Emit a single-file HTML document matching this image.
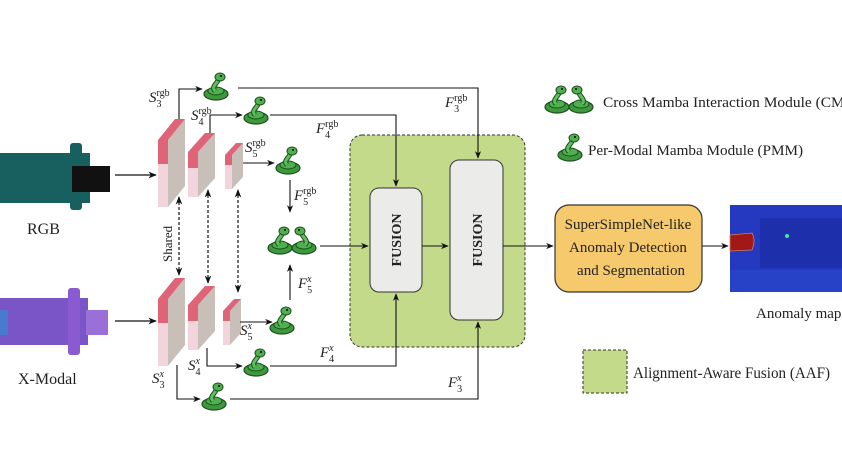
<!DOCTYPE html>
<html><head><meta charset="utf-8"><style>
html,body{margin:0;padding:0;background:#fff;width:842px;height:474px;overflow:hidden}
svg{display:block}
text{font-family:"Liberation Serif",serif;fill:#222}
</style></head><body>
<svg width="842" height="474" viewBox="0 0 842 474" xmlns="http://www.w3.org/2000/svg">
<defs>
<marker id="ar" viewBox="0 0 10 10" refX="9" refY="5" markerWidth="7" markerHeight="7" orient="auto-start-reverse"><path d="M0,1 L10,5 L0,9 L3,5z" fill="#111"/></marker>
<g id="sn">
<ellipse cx="0" cy="6" rx="12" ry="6" fill="#3c9a3c" stroke="#1d4d1d" stroke-width="1.2"/>
<ellipse cx="0" cy="3" rx="8" ry="4" fill="#4fb04f" stroke="#1d4d1d" stroke-width="1"/>
<path d="M-1,3 C-6,-2 4,-6 2,-10" stroke="#1d4d1d" stroke-width="5" fill="none"/>
<path d="M-1,3 C-6,-2 4,-6 2,-10" stroke="#5cc05c" stroke-width="3" fill="none"/>
<ellipse cx="4" cy="-11" rx="5" ry="4" fill="#4fb04f" stroke="#1d4d1d" stroke-width="1"/>
<circle cx="5" cy="-12" r="1" fill="#000"/>
</g>
<g id="blk1">
<polygon points="168,140 185,119 185,186 168,207" fill="#c8c0b8"/>
<rect x="158" y="140" width="10" height="67" fill="#f4d4dc"/>
<polygon points="158,140 175,119 185,119 168,140 168,164 158,164" fill="#e06478"/>
</g>
</defs>

<rect x="0" y="153" width="90" height="50" fill="#17605f"/>
<rect x="70" y="143" width="12" height="67" rx="3" fill="#17605f"/>
<rect x="72" y="166" width="38" height="26" fill="#111"/>
<text x="27" y="234" font-size="16">RGB</text>
<rect x="0" y="298" width="88" height="47" fill="#7a55c8"/>
<rect x="68" y="288" width="12" height="67" rx="3" fill="#8a5ad0"/>
<rect x="86" y="310" width="22" height="25" fill="#9a70d8"/>
<rect x="0" y="310" width="8" height="25" fill="#4a7ad0"/>
<text x="18" y="384" font-size="16">X-Modal</text>

<line x1="115" y1="175" x2="156" y2="175" stroke="#111" stroke-width="1.2" marker-end="url(#ar)"/>
<line x1="115" y1="321" x2="156" y2="321" stroke="#111" stroke-width="1.2" marker-end="url(#ar)"/>

<use href="#blk1"/>
<use href="#blk1" transform="translate(0,159)"/>
<g>
<polygon points="198,152 215,133 215,178 198,197" fill="#c8c0b8"/>
<rect x="188" y="152" width="10" height="45" fill="#f4d4dc"/>
<polygon points="188,152 205,133 215,133 198,152 198,168 188,168" fill="#e06478"/>
</g>
<g transform="translate(0,153)">
<polygon points="198,152 215,133 215,178 198,197" fill="#c8c0b8"/>
<rect x="188" y="152" width="10" height="45" fill="#f4d4dc"/>
<polygon points="188,152 205,133 215,133 198,152 198,168 188,168" fill="#e06478"/>
</g>
<g>
<polygon points="232,155 243,143 243,177 232,189" fill="#c8c0b8"/>
<rect x="225" y="155" width="7" height="34" fill="#f4d4dc"/>
<polygon points="225,155 236,143 243,143 232,155 232,165 225,165" fill="#e06478"/>
</g>
<g transform="translate(-2,156)">
<polygon points="232,155 243,143 243,177 232,189" fill="#c8c0b8"/>
<rect x="225" y="155" width="7" height="34" fill="#f4d4dc"/>
<polygon points="225,155 236,143 243,143 232,155 232,165 225,165" fill="#e06478"/>
</g>

<g stroke="#111" stroke-width="1.2" stroke-dasharray="3,2">
<line x1="179" y1="197" x2="179" y2="275" marker-start="url(#ar)" marker-end="url(#ar)"/>
<line x1="208" y1="190" x2="208" y2="283" marker-start="url(#ar)" marker-end="url(#ar)"/>
<line x1="238" y1="190" x2="238" y2="292" marker-start="url(#ar)" marker-end="url(#ar)"/>
</g>
<text transform="translate(172,262) rotate(-90)" font-size="13">Shared</text>

<rect x="350" y="135" width="175" height="212" rx="12" fill="#c3da8a" stroke="#333" stroke-width="1" stroke-dasharray="3,2"/>
<rect x="370" y="188" width="52" height="104" rx="9" fill="#ebebea" stroke="#333" stroke-width="1"/>
<rect x="450" y="160" width="53" height="160" rx="9" fill="#ebebea" stroke="#333" stroke-width="1"/>
<text transform="translate(401,240) rotate(-90)" font-size="14" font-weight="bold" text-anchor="middle">FUSION</text>
<text transform="translate(482,240) rotate(-90)" font-size="14" font-weight="bold" text-anchor="middle">FUSION</text>

<g stroke="#111" stroke-width="1.1" fill="none">
<polyline points="179,119 179,89 202,89" marker-end="url(#ar)"/>
<polyline points="238,88 478,88 478,158" marker-end="url(#ar)"/>
<polyline points="210,133 210,115 242,115" marker-end="url(#ar)"/>
<polyline points="270,115 396,115 396,186" marker-end="url(#ar)"/>
<line x1="243" y1="163" x2="274" y2="163" marker-end="url(#ar)"/>
<line x1="290" y1="180" x2="290" y2="212" marker-end="url(#ar)"/>
<line x1="320" y1="246" x2="368" y2="246" marker-end="url(#ar)"/>
<line x1="422" y1="246" x2="448" y2="246" marker-end="url(#ar)"/>
<line x1="503" y1="246" x2="553" y2="246" marker-end="url(#ar)"/>
<line x1="702" y1="246" x2="728" y2="246" marker-end="url(#ar)"/>
<line x1="240" y1="322" x2="272" y2="322" marker-end="url(#ar)"/>
<line x1="290" y1="300" x2="290" y2="265" marker-end="url(#ar)"/>
<polyline points="207,348 207,366 242,366" marker-end="url(#ar)"/>
<polyline points="270,366 396,366 396,294" marker-end="url(#ar)"/>
<polyline points="177,365 177,399 200,399" marker-end="url(#ar)"/>
<polyline points="230,399 478,399 478,322" marker-end="url(#ar)"/>
</g>

<use href="#sn" x="216" y="88"/>
<use href="#sn" x="256" y="112"/>
<use href="#sn" x="288" y="162"/>
<use href="#sn" x="282" y="322"/>
<use href="#sn" x="256" y="364"/>
<use href="#sn" x="214" y="398"/>
<use href="#sn" x="280" y="242"/>
<g transform="translate(304,242) scale(-1,1)"><use href="#sn"/></g>
<use href="#sn" x="557" y="101"/>
<g transform="translate(581,101) scale(-1,1)"><use href="#sn"/></g>
<use href="#sn" x="570" y="149"/>

<g font-size="15" font-style="italic">
<text x="149" y="102">S<tspan font-size="10" dy="5" font-style="normal">3</tspan><tspan font-size="10" dy="-11" dx="-5" font-style="normal">rgb</tspan></text>
<text x="191" y="120">S<tspan font-size="10" dy="5" font-style="normal">4</tspan><tspan font-size="10" dy="-11" dx="-5" font-style="normal">rgb</tspan></text>
<text x="245" y="152">S<tspan font-size="10" dy="5" font-style="normal">5</tspan><tspan font-size="10" dy="-11" dx="-5" font-style="normal">rgb</tspan></text>
<text x="316" y="133">F<tspan font-size="10" dy="5" font-style="normal">4</tspan><tspan font-size="10" dy="-11" dx="-5" font-style="normal">rgb</tspan></text>
<text x="294" y="200">F<tspan font-size="10" dy="5" font-style="normal">5</tspan><tspan font-size="10" dy="-11" dx="-5" font-style="normal">rgb</tspan></text>
<text x="445" y="107">F<tspan font-size="10" dy="5" font-style="normal">3</tspan><tspan font-size="10" dy="-11" dx="-5" font-style="normal">rgb</tspan></text>
<text x="298" y="288">F<tspan font-size="10" dy="5" font-style="normal">5</tspan><tspan font-size="10" dy="-11" dx="-5">x</tspan></text>
<text x="240" y="335">S<tspan font-size="10" dy="5" font-style="normal">5</tspan><tspan font-size="10" dy="-11" dx="-5">x</tspan></text>
<text x="320" y="357">F<tspan font-size="10" dy="5" font-style="normal">4</tspan><tspan font-size="10" dy="-11" dx="-5">x</tspan></text>
<text x="188" y="370">S<tspan font-size="10" dy="5" font-style="normal">4</tspan><tspan font-size="10" dy="-11" dx="-5">x</tspan></text>
<text x="152" y="383">S<tspan font-size="10" dy="5" font-style="normal">3</tspan><tspan font-size="10" dy="-11" dx="-5">x</tspan></text>
<text x="448" y="387">F<tspan font-size="10" dy="5" font-style="normal">3</tspan><tspan font-size="10" dy="-11" dx="-5">x</tspan></text>
</g>

<rect x="555" y="205" width="147" height="87" rx="14" fill="#f6c96c" stroke="#333" stroke-width="1.2"/>
<g font-size="15" text-anchor="middle">
<text x="628" y="229">SuperSimpleNet-like</text>
<text x="628" y="252">Anomaly Detection</text>
<text x="631" y="275">and Segmentation</text>
</g>

<rect x="730" y="205" width="112" height="87" fill="#2438c0"/>
<rect x="760" y="218" width="82" height="50" fill="#1a2a9c" opacity="0.6"/>
<rect x="730" y="270" width="112" height="22" fill="#2a48cc" opacity="0.6"/>
<circle cx="787" cy="236" r="2" fill="#4fe0a0"/>
<path d="M730,235 L752,233 Q756,240 752,250 L730,251z" fill="#a01818" stroke="#d08060" stroke-width="0.8"/>
<text x="756" y="318" font-size="15">Anomaly map</text>

<text x="603" y="107" font-size="15" textLength="252" lengthAdjust="spacingAndGlyphs">Cross Mamba Interaction Module (CMI)</text>
<text x="588" y="155" font-size="15" textLength="215" lengthAdjust="spacingAndGlyphs">Per-Modal Mamba Module (PMM)</text>
<rect x="583" y="350" width="44" height="43" fill="#c3da8a" stroke="#333" stroke-width="1" stroke-dasharray="3,2"/>
<text x="633" y="378" font-size="16" textLength="197" lengthAdjust="spacingAndGlyphs">Alignment-Aware Fusion (AAF)</text>
</svg>
</body></html>
